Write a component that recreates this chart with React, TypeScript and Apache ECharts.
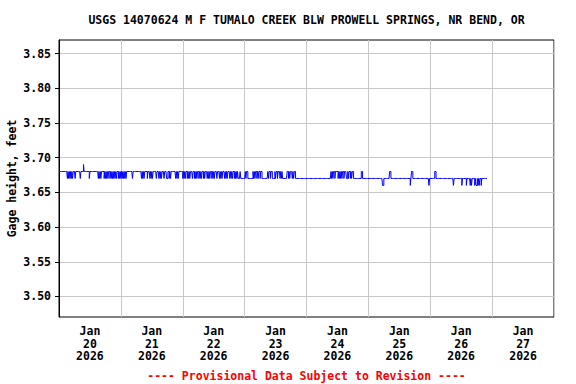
import React, { useEffect, useRef } from "react";
import * as echarts from "echarts";

const TITLE = "USGS 14070624 M F TUMALO CREEK BLW PROWELL SPRINGS, NR BEND, OR";
const Y_NAME = "Gage height, feet";
const FOOTER = "---- Provisional Data Subject to Revision ----";
const DAY_LABELS = ["Jan\n20\n2026", "Jan\n21\n2026", "Jan\n22\n2026", "Jan\n23\n2026", "Jan\n24\n2026", "Jan\n25\n2026", "Jan\n26\n2026", "Jan\n27\n2026"];
const Y_TICKS = [3.5, 3.55, 3.6, 3.65, 3.7, 3.75, 3.8, 3.85];
const Y_MIN = 3.4704;
const Y_MAX = 3.8695;
const Y_STEP = 0.05;
const X_MAX_HOURS = 192;

// 15-minute gage heights per day.
// Digit d means 3.6d ft; "d*n" is d repeated n times.
const jan20 = ["8*13", "787878787", "8*3", "7", "8*7", "7", "8*4", "9", "8*8", "7", "8*13", "787878", "8*3", "78787878", "8", "787878787878", "8", "7878"];
const jan21 = ["787878787", "8*9", "7", "8*13", "787878", "8*3", "7", "8*3", "787878", "8*4", "7", "8*3", "787878", "8*2", "7", "8*3", "77", "8*2", "7878", "8*6", "787878", "8*5"];
const jan22 = ["787878", "8", "787878", "8*2", "7", "8*2", "787878", "8", "78787", "8*2", "7878", "8*2", "787878", "8", "787878", "8*2", "7", "8*3", "787878", "8*2", "787878", "8*2", "787878", "8", "787878", "7*3", "8", "7*6"];
const jan23 = ["7", "8788", "7*8", "87878878788788", "7*9", "8788788", "7*4", "878878887878", "7*7", "88787888787887", "7*16"];
const jan24 = ["7*38", "8787887", "888878", "78787", "8878887", "78788787", "88777", "7*9", "88", "7*9"];
const jan25 = ["7*22", "66", "7*9", "88", "7*30", "6", "7", "88", "7*25", "6", "7"];
const jan26 = ["7*7", "88", "7*27", "6", "7*12", "6", "7*6", "6", "7*5", "6767", "7*3", "67667676", "7*2", "6", "7*9"];
const DAYS = [jan20, jan21, jan22, jan23, jan24, jan25, jan26];

function decodeDay(tokens: string[]): number[] {
  const out: number[] = [];
  for (const t of tokens) {
    if (t.includes("*")) {
      const [d, n] = t.split("*");
      for (let i = 0; i < Number(n); i++) out.push(Number(d));
    } else {
      for (const ch of t) out.push(Number(ch));
    }
  }
  return out.map((d) => Number((3.6 + d / 100).toFixed(2)));
}

function buildSeries(): [number, number][] {
  const pts: [number, number][] = [];
  DAYS.forEach((day, di) => {
    decodeDay(day).forEach((v, i) => {
      pts.push([di * 24 + i * 0.25, v]);
    });
  });
  return pts;
}

const FONT = '"DejaVu Sans Mono", "Liberation Mono", monospace';

export default function App() {
  const ref = useRef<HTMLDivElement>(null);
  useEffect(() => {
    if (!ref.current) return;
    const chart = echarts.init(ref.current, null, { renderer: "svg" });
    const textBase = { fontFamily: FONT, fontWeight: "bold" as const, fontSize: 11.5, color: "#000" };
    chart.setOption({
      animation: false,
      backgroundColor: "#fff",
      grid: {
        left: 59,
        right: 22,
        top: 40,
        bottom: 67,
        show: true,
        borderColor: "#000",
        borderWidth: 1,
        containLabel: false,
        outerBoundsMode: "none",
      },
      xAxis: [
        {
          type: "value",
          min: 0,
          max: X_MAX_HOURS,
          interval: 24,
          axisLine: { show: false },
          axisTick: { show: false },
          axisLabel: { show: false },
          splitLine: { show: true, lineStyle: { color: "#c8c8c8", width: 1 } },
        },
        {
          type: "category",
          data: DAY_LABELS,
          position: "bottom",
          boundaryGap: true,
          axisLine: { show: false },
          axisTick: { show: false },
          splitLine: { show: false },
          axisLabel: { ...textBase, interval: 0, lineHeight: 12.5, margin: 8 },
        },
      ],
      yAxis: {
        type: "value",
        min: Y_MIN,
        max: Y_MAX,
        splitNumber: 8,
        minInterval: Y_STEP,
        maxInterval: Y_STEP,
        name: Y_NAME,
        nameLocation: "middle",
        nameGap: 41,
        nameMoveOverlap: false,
        nameTextStyle: { ...textBase },
        axisLine: { show: true, lineStyle: { color: "#000" } },
        axisTick: { show: true, length: 4, lineStyle: { color: "#000" }, customValues: Y_TICKS },
        axisLabel: {
          ...textBase,
          margin: 8,
          customValues: Y_TICKS,
          formatter: (v: number) => v.toFixed(2),
        },
        splitLine: { show: true, lineStyle: { color: "#c8c8c8", width: 1 } },
      },
      graphic: [
        { type: "text", x: 306.5, y: 20, style: { text: TITLE, font: `bold 11.5px ${FONT}`, fill: "#000", textAlign: "center", textVerticalAlign: "middle" } },
        { type: "text", x: 306.5, y: 376, style: { text: FOOTER, font: `bold 11.5px ${FONT}`, fill: "#ff0000", textAlign: "center", textVerticalAlign: "middle" } },
      ],
      series: [
        {
          type: "line",
          xAxisIndex: 0,
          data: buildSeries(),
          step: "end",
          showSymbol: false,
          symbol: "none",
          lineStyle: { color: "#0000ff", width: 1 },
          clip: true,
        },
      ],
    });
    return () => chart.dispose();
  }, []);
  return <div ref={ref} style={{ position: "fixed", left: 0, top: 0, width: 576, height: 384 }} />;
}
